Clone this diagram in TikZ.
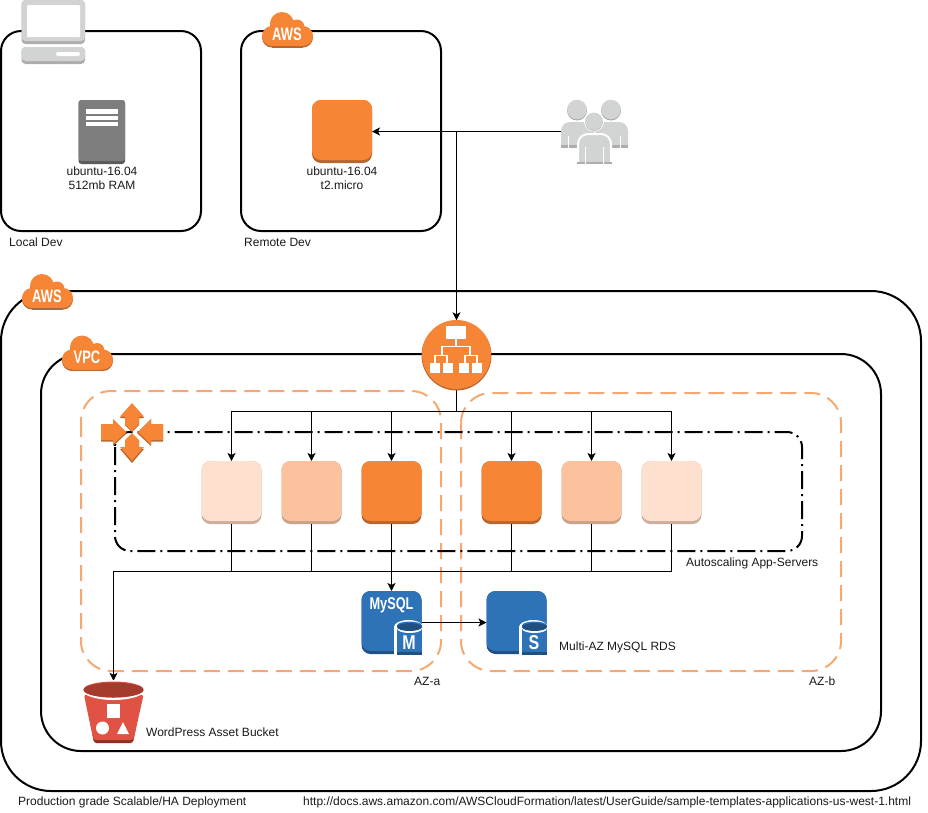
\documentclass[tikz,border=0pt]{standalone}
\usepackage{fontspec}
\setmainfont{Liberation Sans}
\usetikzlibrary{arrows.meta,calc}
\definecolor{awsor}{HTML}{F68536}
\definecolor{awsordk}{HTML}{B8662F}
\definecolor{orb}{HTML}{FBC29D}
\definecolor{orbdk}{HTML}{C9A288}
\definecolor{orc}{HTML}{FDE0CD}
\definecolor{orcdk}{HTML}{C9AE9C}
\definecolor{dashor}{HTML}{F6A873}
\definecolor{dbblue}{HTML}{2E73B8}
\definecolor{dbdk}{HTML}{205081}
\definecolor{bkred}{HTML}{E05243}
\definecolor{bkdk}{HTML}{8C3123}
\definecolor{gyl}{HTML}{D2D3D3}
\definecolor{gyd}{HTML}{ADADAD}
\definecolor{srv}{HTML}{7D7D7D}
\definecolor{srvd}{HTML}{5A5A5A}
\tikzset{
  box/.style={draw=black,line width=2pt,rounded corners=#1},
  azbox/.style={draw=dashor,line width=2pt,rounded corners=30pt,dash pattern=on 16pt off 8pt},
  asgbox/.style={draw=black,line width=2pt,rounded corners=15pt,dash pattern=on 18pt off 5pt on 2pt off 5pt},
  conn/.style={draw=black,line width=1pt},
  arr/.style={conn,-{Stealth[length=8pt,width=8pt,inset=2pt]}},
  lbl/.style={font=\fontsize{12}{14}\selectfont,text=black!90,inner sep=0pt,anchor=west},
  lblc/.style={font=\fontsize{12}{14}\selectfont,text=black!90,inner sep=0pt,align=center},
  badge/.style={text=white,inner sep=0pt,font=\bfseries\fontsize{18}{18}\selectfont}
}
% name, center x, top y, width, height, colour, band colour
\newcommand{\iconbox}[7]{%
  \fill[#7,rounded corners=9pt] ({#2-#4/2},#3) rectangle ({#2+#4/2},{#3+#5});
  \fill[#6,rounded corners=9pt] ({#2-#4/2},#3) rectangle ({#2+#4/2},{#3+#5-3});
  \node[inner sep=0pt,outer sep=0pt,minimum width=#4 pt,minimum height=#5 pt] (#1) at (#2,{#3+#5/2}) {};
}
\newcommand{\cloudshape}{%
  \fill (10,24) circle[radius=10pt];
  \fill (20,12) circle[radius=12pt];
  \fill (35,15) circle[radius=7.5pt];
  \fill (41,24) circle[radius=10pt];
  \fill (10,18) rectangle (41,34);
}
\newcommand{\cloudbadge}[4]{%
  \begin{scope}[shift={(#2,#3)}]
    \begin{scope}[yshift=-1.5pt,fill=awsordk]\cloudshape\end{scope}
    \begin{scope}[fill=awsor]\cloudshape\end{scope}
    \node[badge] (#1) at (25,22) {\scalebox{0.72}[1]{#4}};
  \end{scope}
}
% left x of box, letter
\newcommand{\dbcyl}[2]{%
  \fill[white] ({#1+47.5},627) ellipse[x radius=14.5pt,y radius=7pt];
  \fill[white] ({#1+33},627) rectangle ({#1+61},655);
  \fill[dbblue] ({#1+36},627) rectangle ({#1+61},655);
  \fill[dbdk] ({#1+36},652) rectangle ({#1+61},655);
  \fill[dbblue] ({#1+48.5},625.5) ellipse[x radius=12.5pt,y radius=4pt];
  \fill[white] ({#1+48.5},628.5) ellipse[x radius=12.5pt,y radius=4.5pt];
  \fill[dbdk] ({#1+48.5},627) ellipse[x radius=12.5pt,y radius=4pt];
  \node[text=white,inner sep=0pt,font=\bfseries\fontsize{20}{20}\selectfont] at ({#1+48},643) {\scalebox{0.8}[1]{#2}};
}
\begin{document}
\begin{tikzpicture}[x=1pt,y=-1pt]
\useasboundingbox (0,0) rectangle (928,812);
% containers
\draw[box=20pt] (1,31) rectangle (201,231);
\draw[box=20pt] (241,31) rectangle (441,231);
\draw[box=50pt] (1,291) rectangle (921,791);
\draw[box=40pt] (41,354) rectangle (881,751);
\draw[azbox] (81,391) rectangle (441,671);
\draw[azbox] (461,393) rectangle (841,671);
\draw[asgbox] (115,432) rectangle (802,551);

% icons: boxes first, so that names exist for connectors
\iconbox{ec2}{342}{100}{60}{63}{awsor}{awsordk}
\iconbox{i1}{231.5}{461}{60}{63}{orc}{orcdk}
\iconbox{i2}{311.5}{461}{60}{63}{orb}{orbdk}
\iconbox{i3}{391.5}{461}{60}{63}{awsor}{awsordk}
\iconbox{i4}{511.5}{461}{60}{63}{awsor}{awsordk}
\iconbox{i5}{591.5}{461}{60}{63}{orb}{orbdk}
\iconbox{i6}{671.5}{461}{60}{63}{orc}{orcdk}
\iconbox{mysql}{391.5}{591}{60}{63}{dbblue}{dbdk}
\iconbox{rds}{516.5}{591}{60}{63}{dbblue}{dbdk}
\node[inner sep=0pt,minimum width=67pt,minimum height=63pt] (users) at (594.5,131.5) {};
\node[inner sep=0pt,minimum size=69pt,circle] (alb) at (456.5,355) {};
\node[inner sep=0pt,minimum width=61pt,minimum height=62pt] (bucket) at (113.5,712) {};
\coordinate (j1) at (456.5,131.5);
\coordinate (bus1) at (456.5,411);
\coordinate (bus2) at (391.5,571);
\coordinate (busw) at (113.5,571);

% connectors
\draw[arr] (users.west) -- (ec2.east);
\draw[arr] (j1) -- (alb.north);
\draw[conn] (alb.south) -- (bus1);
\foreach \n in {i1,i2,i3,i4,i5,i6}{\draw[arr] (bus1) -| (\n.north);}
\foreach \n in {i1,i2,i3,i4,i5,i6}{\draw[conn] (\n.south) |- (busw);}
\draw[arr] (busw) -- (bucket.north);
\draw[arr,line width=1.6pt] (bus2) -- (mysql.north);
\draw[arr] (mysql.east) -- (rds.west);

% laptop
\fill[gyd,rounded corners=4pt] (21.5,0) rectangle (85,44);
\fill[gyl,rounded corners=4pt] (21.5,0) rectangle (85,41);
\fill[white,rounded corners=1pt] (27,5) rectangle (80,37);
\fill[gyd,rounded corners=4pt] (21.5,47) rectangle (85,64);
\fill[gyl,rounded corners=4pt] (21.5,47) rectangle (85,61);
\fill[white,rounded corners=2pt] (56,52) rectangle (80,56);

% server
\fill[srvd,rounded corners=3pt] (78.5,100) rectangle (125,164);
\fill[srv,rounded corners=3pt] (78.5,100) rectangle (125,161);
\fill[white] (86,109) rectangle (118,113.5);
\fill[white] (86,115.5) rectangle (118,119.5);
\fill[white] (86,122) rectangle (118,126);

% users
\fill[gyd] (577,110.5) circle[radius=10pt];
\fill[gyl] (577,109.5) circle[radius=9.8pt];
\fill[gyd] (611,110.5) circle[radius=10pt];
\fill[gyl] (611,109.5) circle[radius=9.8pt];
\fill[gyl] (561,147) [rounded corners=9pt] -- (561,122) -- (594,122) [sharp corners] -- (594,147) -- cycle;
\fill[gyl] (595,147) [rounded corners=9pt] -- (595,122) -- (628,122) [sharp corners] -- (628,147) -- cycle;
\fill[gyd] (561,145) rectangle (628,147.5);
\fill[white] (568,136) rectangle (569,147.5);
\fill[white] (620,136) rectangle (621,147.5);
\fill[gyl,draw=white,line width=2pt] (578,164) [rounded corners=10pt] -- (578,134) -- (611,134) [sharp corners] -- (611,164) -- cycle;
\fill[gyd] (577,161.5) rectangle (612,164);
\fill[white] (585,147) rectangle (586,164);
\fill[white] (603,147) rectangle (604,164);
\fill[white] (594,121.5) circle[radius=10pt];
\fill[gyd] (594,122) circle[radius=8.8pt];
\fill[gyl] (594,121.3) circle[radius=8.8pt];

% load balancer
\fill[awsordk] (456.5,355.5) circle[radius=35pt];
\fill[awsor] (456.5,354.5) circle[radius=34.5pt];
\fill[white] (446,326) rectangle (466,339);
\draw[white,line width=1.2pt] (456,339) -- (456,346.5) (442,355) -- (442,346.5) -- (470,346.5) -- (470,355)
  (435,363) -- (435,355.5) -- (447,355.5) -- (447,363) (465,363) -- (465,355.5) -- (477,355.5) -- (477,363);
\fill[white] (430,363) rectangle (440,373);
\fill[white] (443,363) rectangle (453,373);
\fill[white] (459,363) rectangle (469,373);
\fill[white] (472,363) rectangle (482,373);

% autoscaling arrows
\fill[awsordk] (132,432) -- (125,425) -- (125,418) -- (120,418) -- (132,405) -- (144,418) -- (139,418) -- (139,425) -- cycle;
\fill[awsor] (132,431) -- (125,424) -- (125,416.5) -- (120,416.5) -- (132,403) -- (144,416.5) -- (139,416.5) -- (139,424) -- cycle;
\fill[awsordk] (132,434) -- (125,441) -- (125,449) -- (120,449) -- (132,463) -- (144,449) -- (139,449) -- (139,441) -- cycle;
\fill[awsor] (132,433) -- (125,440) -- (125,447) -- (120,447) -- (132,460.5) -- (144,447) -- (139,447) -- (139,440) -- cycle;
\fill[awsordk] (101,424) -- (113,424) -- (113,419) -- (127,433) -- (113,446) -- (113,441.5) -- (101,441.5) -- cycle;
\fill[awsor] (101,424) -- (113,424) -- (113,419) -- (126,432) -- (113,444.5) -- (113,440) -- (101,440) -- cycle;
\fill[awsordk] (163,424) -- (151,424) -- (151,419) -- (137,433) -- (151,446) -- (151,441.5) -- (163,441.5) -- cycle;
\fill[awsor] (163,424) -- (151,424) -- (151,419) -- (138,432) -- (151,444.5) -- (151,440) -- (163,440) -- cycle;

% database details
\node[text=white,inner sep=0pt,font=\bfseries\fontsize{17}{17}\selectfont] at (391.5,605) {\scalebox{0.75}[1]{MySQL}};
\dbcyl{361}{M}
\dbcyl{486}{S}

% bucket
\fill[bkdk,rounded corners=2pt] (85,695) -- (142,695) -- (133,743) -- (94,743) -- cycle;
\fill[bkred,rounded corners=2pt] (84,695) -- (143.5,695) -- (133.5,740) -- (93.5,740) -- cycle;
\fill[white] (113.5,690) ellipse[x radius=31pt,y radius=10pt];
\fill[bkred] (113.5,689.5) ellipse[x radius=30pt,y radius=8pt];
\fill[bkdk!70!bkred] (113.5,690) ellipse[x radius=30pt,y radius=7.5pt];
\fill[white] (107,704) rectangle (120,717.5);
\fill[white] (102.5,728) circle[radius=6.5pt];
\fill[white] (117,734) -- (129,734) -- (123,722) -- cycle;

% clouds
\cloudbadge{cl1}{262}{12}{AWS}
\cloudbadge{cl2}{22}{274}{AWS}
\cloudbadge{cl3}{62}{335.5}{VPC}

% labels
\node[lblc] (t1) at (102,178) {ubuntu-16.04\\512mb RAM};
\node[lblc] (t2) at (342,178) {ubuntu-16.04\\t2.micro};
\node[lbl] (t3) at (9,242) {Local Dev};
\node[lbl] (t4) at (244,242) {Remote Dev};
\node[lbl] (t5) at (686,563) {Autoscaling App-Servers};
\node[lbl] (t6) at (559,647.5) {Multi-AZ MySQL RDS};
\node[lbl] (t7) at (414,681.5) {AZ-a};
\node[lbl] (t8) at (809,681.5) {AZ-b};
\node[lbl] (t9) at (146,732) {WordPress Asset Bucket};
\node[lbl] (t10) at (18,802) {Production grade Scalable/HA Deployment};
\node[lbl] (t11) at (303,802) {http://docs.aws.amazon.com/AWSCloudFormation/latest/UserGuide/sample-templates-applications-us-west-1.html};
\end{tikzpicture}
\end{document}
